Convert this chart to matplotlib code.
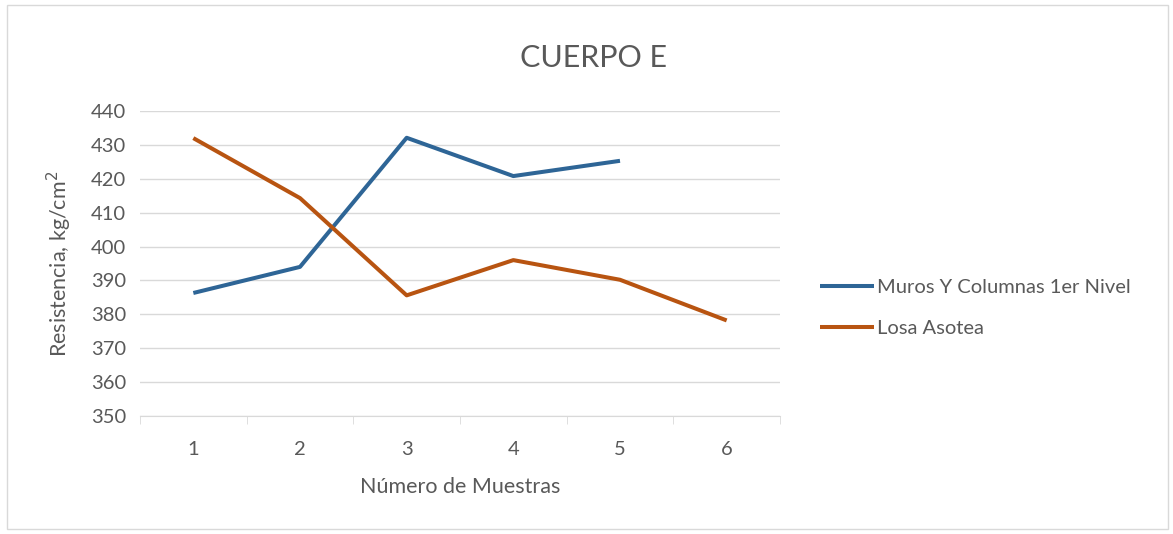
import matplotlib.pyplot as plt

# data
muestras = [1, 2, 3, 4, 5, 6]
muros = [386.3, 394.0, 432.1, 420.8, 425.3]
losa = [432.0, 414.3, 385.6, 396.0, 390.2, 378.2]
yticks = list(range(350, 441, 10))

txt = '#595959'
grid = '#d9d9d9'
plt.rcParams['font.family'] = ['Lato', 'DejaVu Sans']

fig = plt.figure(figsize=(11.73, 5.34), dpi=100)
ax = fig.add_axes([140 / 1173, 1 - 416 / 534, 640 / 1173, 305 / 534])

ax.plot(muestras[:len(muros)], muros, color='#2e6596', lw=2.9,
        label='Muros Y Columnas 1er Nivel', solid_capstyle='butt')
ax.plot(muestras, losa, color='#b85411', lw=2.9,
        label='Losa Asotea', solid_capstyle='butt')

ax.set_xlim(0.5, 6.5)
ax.set_ylim(350, 440)
ax.set_yticks(yticks)
ax.set_xticks(muestras)
ax.set_xticks([m + 0.5 for m in [0] + muestras], minor=True)
ax.yaxis.grid(True, color=grid, lw=1)
ax.set_axisbelow(True)
for s in ['top', 'right', 'left']:
    ax.spines[s].set_visible(False)
ax.spines['bottom'].set_color(grid)
ax.tick_params(axis='y', length=0, pad=10, labelsize=14.5, labelcolor=txt)
ax.tick_params(axis='x', which='major', length=0, pad=18, labelsize=14.5, labelcolor=txt)
ax.tick_params(axis='x', which='minor', length=6, color=grid)

ax.set_xlabel('Número de Muestras', fontsize=15.5, color=txt, labelpad=14)
ax.set_ylabel('Resistencia, kg/cm$^2$', fontsize=15.5, color=txt, labelpad=12)
fig.text(593 / 1173, 1 - 58 / 534, 'CUERPO E', fontsize=22, color=txt,
         ha='center', va='center')

ax.legend(loc='center left', bbox_to_anchor=(1.0625, 0.354), frameon=False,
          borderpad=0, borderaxespad=0, fontsize=14.5, labelcolor=txt,
          handlelength=2.7, handletextpad=0.15, labelspacing=1.15)

# light frame around the chart
fig.patches.append(plt.Rectangle((0.006, 0.01), 0.99, 0.98, transform=fig.transFigure,
                                 fill=False, edgecolor='#d9d9d9', lw=1))

fig.savefig('out.png', dpi=100)
